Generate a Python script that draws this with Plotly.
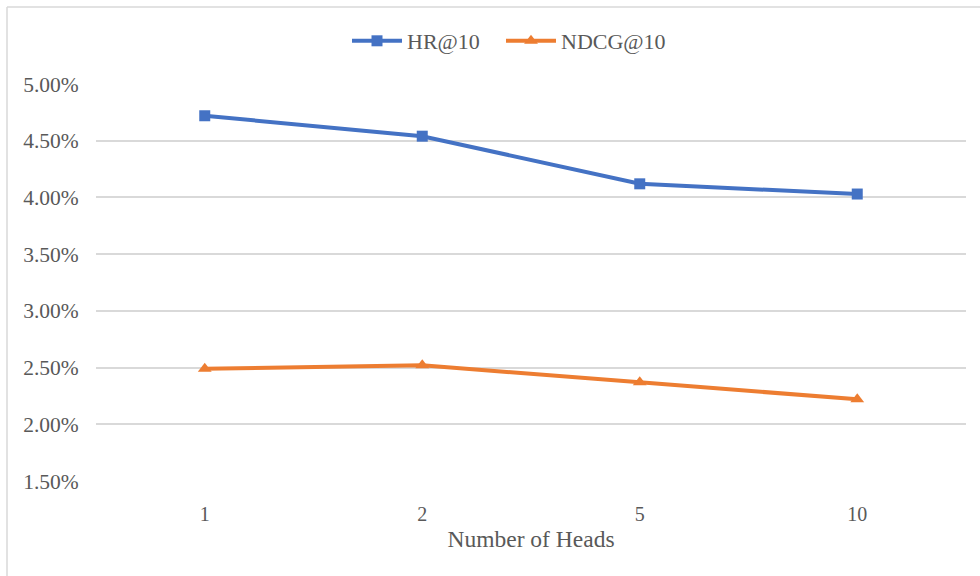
import plotly.graph_objects as go

heads = ["1", "2", "5", "10"]
hr10 = [0.0472, 0.0454, 0.0412, 0.0403]
ndcg10 = [0.0249, 0.0252, 0.0237, 0.0222]
y_ticks = [0.015, 0.02, 0.025, 0.03, 0.035, 0.04, 0.045, 0.05]

W, H = 980, 576
L, R, T, B = 96, 14, 84, 95
pw, ph = W - L - R, H - T - B

def px_x(px):
    return (px - L) / pw

def px_y(py):
    return (H - B - py) / ph

font_family = "Liberation Serif, Times New Roman, serif"
gray = "#595959"

fig = go.Figure()
fig.add_trace(go.Scatter(
    x=heads, y=hr10, name="HR@10", mode="lines+markers",
    line=dict(color="#4472C4", width=4),
    marker=dict(symbol="square", size=11, color="#4472C4"),
    legend="legend",
))
fig.add_trace(go.Scatter(
    x=heads, y=ndcg10, name="NDCG@10", mode="lines+markers",
    line=dict(color="#ED7D31", width=4),
    marker=dict(symbol="triangle-up", size=12, color="#ED7D31"),
    legend="legend2",
))

legend_common = dict(orientation="h", xanchor="left",
                     y=px_y(41), yanchor="middle", itemwidth=50,
                     font=dict(family=font_family, size=22, color=gray),
                     bgcolor="rgba(0,0,0,0)")

fig.update_layout(
    width=W, height=H,
    margin=dict(l=L, r=R, t=T, b=B, autoexpand=False),
    paper_bgcolor="white", plot_bgcolor="white",
    font=dict(family=font_family, color=gray, size=20),
    legend=dict(x=px_x(347), **legend_common),
    legend2=dict(x=px_x(501), **legend_common),
    showlegend=True,
    xaxis=dict(
        type="category", range=[-0.5, 3.5], automargin=False,
        showgrid=False, zeroline=False,
        showline=False, ticks="outside", ticklen=15,
        tickcolor="rgba(0,0,0,0)",
        tickfont=dict(family=font_family, size=20, color=gray),
        title=dict(text="Number of Heads",
                   font=dict(family=font_family, size=23.5, color=gray),
                   standoff=6),
    ),
    yaxis=dict(
        range=[0.015, 0.05], tickvals=y_ticks, tickformat=".2%",
        automargin=False,
        showgrid=True, gridcolor="#D9D9D9", gridwidth=1.5,
        zeroline=False, showline=False,
        ticks="outside", ticklen=12, tickcolor="rgba(0,0,0,0)",
        tickfont=dict(family=font_family, size=21.5, color=gray),
    ),
    shapes=[
        dict(type="line", xref="paper", yref="paper",
             x0=px_x(7), x1=px_x(980), y0=px_y(7), y1=px_y(7),
             line=dict(color="#D9D9D9", width=1.5)),
        dict(type="line", xref="paper", yref="paper",
             x0=px_x(7), x1=px_x(7), y0=px_y(7), y1=px_y(576),
             line=dict(color="#D9D9D9", width=1.5)),
    ],
)

fig.write_html("out.html", config={"displayModeBar": False},
               post_script="document.body.style.margin='0';")
